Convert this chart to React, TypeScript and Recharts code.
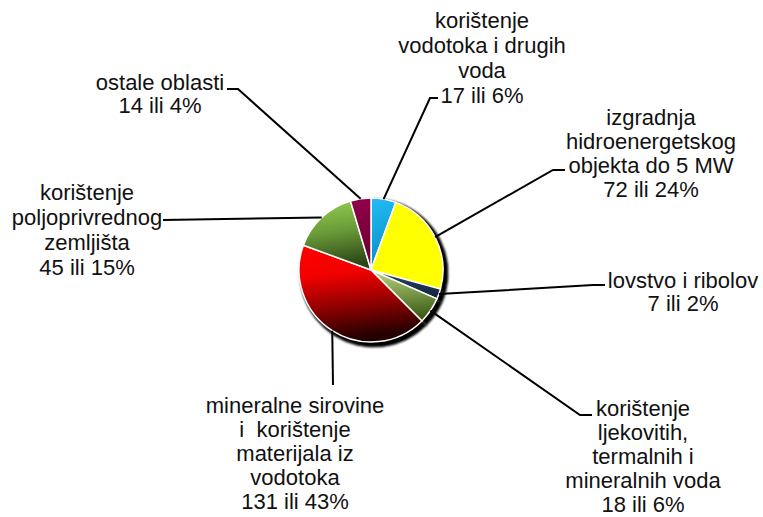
import React from 'react';
import { PieChart, Pie, Cell } from 'recharts';

const CATEGORIES = [
  'korištenje\nvodotoka i drugih\nvoda',
  'izgradnja\nhidroenergetskog\nobjekta do 5 MW',
  'lovstvo i ribolov',
  'korištenje\nljekovitih,\ntermalnih i\nmineralnih voda',
  'mineralne sirovine\ni  korištenje\nmaterijala iz\nvodotoka',
  'korištenje\npoljoprivrednog\nzemljišta',
  'ostale oblasti',
];
const VALUES = [17, 72, 7, 18, 131, 45, 14];
const PERCENT_LABELS = ['6%', '24%', '2%', '6%', '43%', '15%', '4%'];

const data = CATEGORIES.map((name, i) => ({
  name,
  value: VALUES[i],
  text: `${VALUES[i]} ili ${PERCENT_LABELS[i]}`,
}));

// gradient stops per slice (top -> bottom)
const GRADIENTS: string[][] = [
  ['#22bdf5', '#0a8cc6'],
  ['#ffff00', '#ffff00'],
  ['#2a4a70', '#14263e'],
  ['#bcdc80', '#3e5c16'],
  ['#ff0000', '#f20000', '#900000', '#240000'],
  ['#94d052', '#6a9a38', '#2c4616'],
  ['#94004a', '#6a0032'],
];

// label placement: leader elbow, leader end, text centre x, first line y
const LABEL_LAYOUT = [
  { elbow: [430, 98], end: [438, 98], tx: 482, ty: 20, lh: 25 },
  { elbow: [553, 170], end: [565, 170], tx: 651, ty: 117, lh: 24 },
  { elbow: [593, 285], end: [605, 285], tx: 683, ty: 280, lh: 23 },
  { elbow: [580, 415], end: [592, 415], tx: 643, ty: 408, lh: 24.2 },
  { elbow: [333, 385], end: [333, 385], tx: 295, ty: 405, lh: 24.2 },
  { elbow: [163, 220], end: [163, 220], tx: 87, ty: 192, lh: 25 },
  { elbow: [238, 89], end: [227, 89], tx: 160, ty: 82, lh: 23 },
];

const RADIAN = Math.PI / 180;

const renderLabel = (props: any) => {
  const { cx, cy, midAngle, outerRadius, index, payload } = props;
  const lay = LABEL_LAYOUT[index];
  const sx = cx + outerRadius * Math.cos(-midAngle * RADIAN);
  const sy = cy + outerRadius * Math.sin(-midAngle * RADIAN);
  const lines = [...String(payload.name).split('\n'), payload.text];
  return (
    <g key={`lbl-${index}`}>
      <polyline
        points={`${sx},${sy} ${lay.elbow[0]},${lay.elbow[1]} ${lay.end[0]},${lay.end[1]}`}
        fill="none"
        stroke="#000"
        strokeWidth={2}
      />
      <text
        x={lay.tx}
        textAnchor="middle"
        fontFamily="'Liberation Sans', Arial, sans-serif"
        fontSize={22}
        fill="#111"
      >
        {lines.map((ln, j) => (
          <tspan key={j} x={lay.tx} y={lay.ty + j * lay.lh} dominantBaseline="central" style={{ whiteSpace: 'pre' }}>
            {ln}
          </tspan>
        ))}
      </text>
    </g>
  );
};

const App: React.FC = () => {
  return (
    <div style={{ position: 'absolute', left: 0, top: 0, width: 763, height: 517, background: '#fff' }}>
      <PieChart width={763} height={517} margin={{ top: 0, right: 0, bottom: 0, left: 0 }}>
        <defs>
          {GRADIENTS.map((stops, i) => (
            <linearGradient key={i} id={`slice${i}`} x1="0" y1="0" x2="0.15" y2="1">
              {stops.map((c, j) => (
                <stop key={j} offset={`${(j / (stops.length - 1)) * 100}%`} stopColor={c} />
              ))}
            </linearGradient>
          ))}
          <filter id="shadowBlur" x="-20%" y="-20%" width="140%" height="140%">
            <feGaussianBlur stdDeviation="0.8" />
          </filter>
        </defs>
        <Pie
          data={data}
          dataKey="value"
          cx={374}
          cy={273}
          outerRadius={74}
          startAngle={90}
          endAngle={-270}
          stroke="#000"
          strokeWidth={1}
          label={false}
          labelLine={false}
          legendType="none"
          isAnimationActive={false}
        >
          {data.map((_, i) => (
            <Cell key={i} fill="#000" style={{ filter: 'url(#shadowBlur)' }} />
          ))}
        </Pie>
        <Pie
          data={data}
          dataKey="value"
          cx={371}
          cy={270}
          outerRadius={72}
          startAngle={90}
          endAngle={-270}
          stroke="#fff"
          strokeWidth={1.5}
          label={renderLabel}
          labelLine={false}
          isAnimationActive={false}
        >
          {data.map((_, i) => (
            <Cell key={i} fill={`url(#slice${i})`} />
          ))}
        </Pie>
      </PieChart>
    </div>
  );
};

export default App;
